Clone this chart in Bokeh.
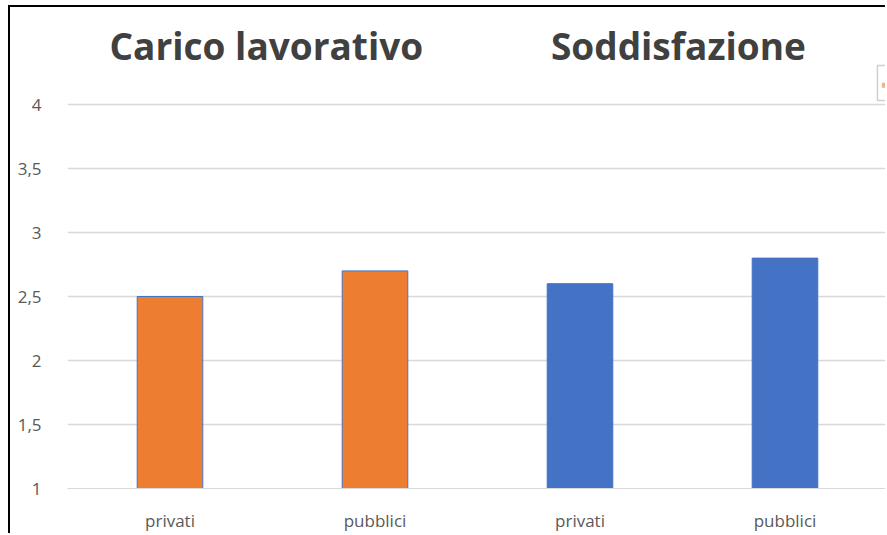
from bokeh.plotting import figure
from bokeh.models import ColumnDataSource, Range1d, FixedTicker, Label
from bokeh.embed import file_html
from bokeh.resources import INLINE

# Survey averages: workload and satisfaction, private vs public sector
groups = ["Carico lavorativo", "Soddisfazione"]
categories = ["privati", "pubblici", "privati", "pubblici"]
values = [2.5, 2.7, 2.6, 2.8]
group_of_bar = [0, 0, 1, 1]
group_colors = ["#ED7D31", "#4472C4"]

y_ticks = [1, 1.5, 2, 2.5, 3, 3.5, 4]
y_tick_labels = ["1", "1,5", "2", "2,5", "3", "3,5", "4"]

positions = [i + 0.5 for i in range(len(categories))]
src = ColumnDataSource(dict(
    x=positions,
    top=values,
    color=[group_colors[g] for g in group_of_bar],
))

# The frame reaches the top of the canvas so the group headings sit inside it
p = figure(
    width=877, height=528,
    x_range=Range1d(0, len(categories)),
    y_range=Range1d(1, 4.758),
    output_backend="svg", toolbar_location=None,
    min_border_left=57, min_border_right=0,
    min_border_top=0, min_border_bottom=47,
)
p.styles = {
    "margin-left": "8px", "margin-top": "5px",
    "border-left": "2px solid black", "border-top": "2px solid black",
}
p.outline_line_color = None
p.background_fill_color = "white"
p.border_fill_color = "white"

p.vbar(x="x", top="top", bottom=1, width=0.32, source=src,
       fill_color="color", line_color="#4472C4", line_width=1)

font = "Open Sans"

p.xaxis.ticker = FixedTicker(ticks=positions)
p.xaxis.major_label_overrides = {pos: lab for pos, lab in zip(positions, categories)}
p.xaxis.axis_line_color = "#D9D9D9"
p.xaxis.major_tick_line_color = None
p.xaxis.minor_tick_line_color = None
p.xaxis.major_label_standoff = 14
p.xaxis.major_label_text_font = font
p.xaxis.major_label_text_font_size = "17px"
p.xaxis.major_label_text_color = "#595959"

p.yaxis.ticker = FixedTicker(ticks=y_ticks)
p.yaxis.major_label_overrides = {t: lab for t, lab in zip(y_ticks, y_tick_labels)}
p.yaxis.axis_line_color = None
p.yaxis.major_tick_line_color = None
p.yaxis.minor_tick_line_color = None
p.yaxis.major_label_standoff = 20
p.yaxis.major_label_text_font = font
p.yaxis.major_label_text_font_size = "17px"
p.yaxis.major_label_text_color = "#595959"

p.xgrid.grid_line_color = None
p.ygrid.grid_line_color = "#D9D9D9"
p.ygrid.grid_line_width = 1.5

# Group headings above each pair of bars
for gx, name in zip([0.97, 2.98], groups):
    p.add_layout(Label(
        x=gx, y=4.46, text=name, text_align="center",
        text_baseline="alphabetic", text_font=font, text_font_style="bold",
        text_font_size="37px", text_color="#404040",
    ))

# Small chart-element button peeking in at the right edge
p.quad(left=[3.951], right=[4.1], bottom=[4.031], top=[4.305],
       fill_color="white", line_color="#D0D0D0", line_width=1.5)
p.scatter(x=[3.985], y=[4.15], size=5, marker="square",
          fill_color="#F4B183", line_color=None)

open("out.html", "w").write(file_html(p, INLINE))
